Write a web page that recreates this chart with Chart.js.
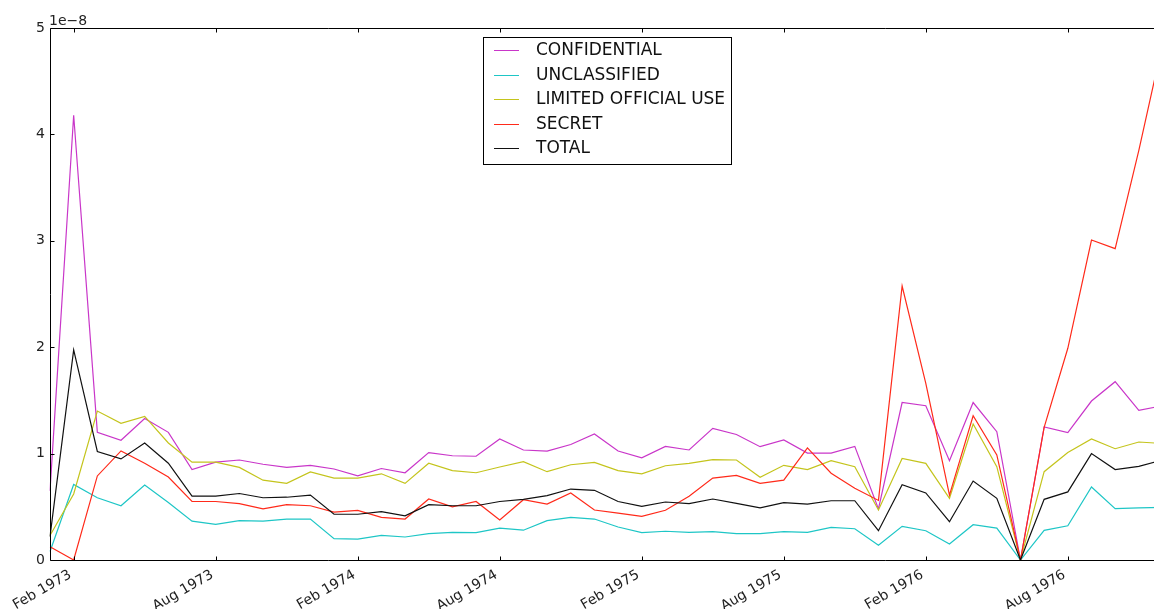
<!DOCTYPE html>
<html>
<head>
<meta charset="utf-8">
<script src="https://cdn.jsdelivr.net/npm/chart.js@4"></script>
<style>
  html, body { margin: 0; padding: 0; background: #fff; overflow: hidden; }
  #wrap { position: absolute; left: 0; top: 0; width: 1170px; height: 609px; }
</style>
</head>
<body>
<div id="wrap"><canvas id="cables"></canvas></div>
<script>
// monthly share of cables, in units of 1e-8, Jan 1973 .. Dec 1976
const years = [1973, 1974, 1975, 1976];
const monthNames = ["Jan", "Feb", "Mar", "Apr", "May", "Jun", "Jul", "Aug", "Sep", "Oct", "Nov", "Dec"];
const tickMonths = ["Feb", "Aug"];

const confidential = [
  0.65, 4.18, 1.20, 1.125, 1.33, 1.20, 0.85, 0.92, 0.94, 0.90, 0.87, 0.89,
  0.855, 0.79, 0.86, 0.82, 1.01, 0.98, 0.975, 1.137, 1.034, 1.024, 1.085, 1.184,
  1.024, 0.96, 1.068, 1.034, 1.237, 1.18, 1.065, 1.128, 1.005, 1.005, 1.068, 0.48,
  1.48, 1.45, 0.933, 1.48, 1.206, 0, 1.25, 1.197, 1.494, 1.676, 1.407, 1.45
];
const unclassified = [
  0.08, 0.71, 0.585, 0.51, 0.705, 0.54, 0.365, 0.335, 0.37, 0.365, 0.385, 0.385,
  0.20, 0.197, 0.232, 0.216, 0.247, 0.26, 0.257, 0.30, 0.28, 0.37, 0.40, 0.385,
  0.31, 0.257, 0.27, 0.26, 0.266, 0.247, 0.247, 0.266, 0.26, 0.307, 0.294, 0.138,
  0.316, 0.275, 0.15, 0.332, 0.30, 0, 0.279, 0.322, 0.686, 0.482, 0.49, 0.495
];
const limitedOfficialUse = [
  0.23, 0.62, 1.40, 1.285, 1.35, 1.10, 0.92, 0.92, 0.87, 0.75, 0.72, 0.827,
  0.77, 0.77, 0.81, 0.72, 0.91, 0.84, 0.82, 0.874, 0.925, 0.83, 0.895, 0.918,
  0.84, 0.81, 0.886, 0.908, 0.943, 0.94, 0.777, 0.89, 0.849, 0.933, 0.877, 0.47,
  0.955, 0.908, 0.58, 1.278, 0.877, 0, 0.83, 1.01, 1.137, 1.046, 1.109, 1.095
];
const secret = [
  0.125, 0, 0.79, 1.025, 0.91, 0.78, 0.55, 0.55, 0.53, 0.48, 0.52, 0.51,
  0.45, 0.467, 0.40, 0.385, 0.573, 0.50, 0.55, 0.376, 0.567, 0.526, 0.63, 0.47,
  0.44, 0.41, 0.467, 0.60, 0.77, 0.795, 0.72, 0.75, 1.053, 0.815, 0.674, 0.56,
  2.575, 1.66, 0.61, 1.356, 0.987, 0, 1.247, 1.99, 3.007, 2.926, 3.85, 4.85
];
const total = [
  0.22, 1.975, 1.02, 0.95, 1.10, 0.91, 0.60, 0.60, 0.625, 0.585, 0.59, 0.61,
  0.43, 0.43, 0.455, 0.415, 0.52, 0.51, 0.51, 0.55, 0.57, 0.605, 0.667, 0.655,
  0.55, 0.504, 0.545, 0.53, 0.573, 0.533, 0.49, 0.54, 0.526, 0.557, 0.557, 0.275,
  0.708, 0.63, 0.36, 0.742, 0.58, 0, 0.57, 0.64, 1.0, 0.85, 0.88, 0.94
];

const months = [];
years.forEach(y => monthNames.forEach(m => months.push(m + " " + y)));

const series = [
  { label: "CONFIDENTIAL", data: confidential, color: "#c936c9" },
  { label: "UNCLASSIFIED", data: unclassified, color: "#1ec6c6" },
  { label: "LIMITED OFFICIAL USE", data: limitedOfficialUse, color: "#c4c41c" },
  { label: "SECRET", data: secret, color: "#ff2a1a" },
  { label: "TOTAL", data: total, color: "#111111" }
];

const FONT = "'DejaVu Sans', sans-serif";

function isTickMonth(label) {
  return tickMonths.includes(label.split(" ")[0]);
}

// axes frame with inward ticks, slanted date labels, the offset text and the boxed legend
const decorations = {
  id: "decorations",
  afterDatasetsDraw(chart) {
    const { ctx, chartArea: a, scales: { x, y } } = chart;
    ctx.save();
    ctx.strokeStyle = "#000";
    ctx.lineWidth = 1;
    const L = Math.round(a.left) + 0.5, T = Math.round(a.top) + 0.5;
    const B = Math.round(a.bottom) + 0.5, R = Math.round(a.right) + 0.5;
    ctx.beginPath();
    ctx.moveTo(R, T); ctx.lineTo(L, T); ctx.lineTo(L, B); ctx.lineTo(R, B);
    ctx.stroke();

    ctx.beginPath();
    months.forEach((m, i) => {
      if (!isTickMonth(m)) return;
      const px = Math.round(x.getPixelForValue(i)) + 0.5;
      ctx.moveTo(px, B); ctx.lineTo(px, B - 4);
      ctx.moveTo(px, T); ctx.lineTo(px, T + 4);
    });
    y.ticks.forEach(t => {
      const py = Math.round(y.getPixelForValue(t.value)) + 0.5;
      ctx.moveTo(L, py); ctx.lineTo(L + 4, py);
    });
    ctx.stroke();

    // date labels, rotated 30 degrees and ending under their tick
    ctx.fillStyle = "#222";
    ctx.font = "14px " + FONT;
    ctx.textAlign = "right";
    ctx.textBaseline = "alphabetic";
    months.forEach((m, i) => {
      if (!isTickMonth(m)) return;
      const px = x.getPixelForValue(i);
      ctx.save();
      ctx.translate(px - 1.5, a.bottom + 17);
      ctx.rotate(-Math.PI / 6);
      ctx.fillText(m, 0, 0);
      ctx.restore();
    });

    ctx.fillStyle = "#222";
    ctx.textAlign = "left";
    ctx.fillText("1e\u22128", a.left - 1, a.top - 3);

    // legend
    const bx = 483.5, by = 37.5, bw = 248, bh = 127;
    ctx.fillStyle = "#fff";
    ctx.fillRect(bx, by, bw, bh);
    ctx.strokeStyle = "#000";
    ctx.strokeRect(bx, by, bw, bh);
    ctx.font = "17px " + FONT;
    ctx.textBaseline = "middle";
    chart.data.datasets.forEach((ds, i) => {
      const ry = 50 + i * 24.5;
      ctx.strokeStyle = ds.borderColor;
      ctx.beginPath();
      ctx.moveTo(494, Math.round(ry) + 0.5);
      ctx.lineTo(519, Math.round(ry) + 0.5);
      ctx.stroke();
      ctx.fillStyle = "#111";
      ctx.fillText(ds.label, 536, ry + 1);
    });
    ctx.restore();
  }
};

new Chart(document.getElementById("cables"), {
  type: "line",
  data: {
    labels: months,
    datasets: series.map((s, i) => ({
      label: s.label,
      data: s.data,
      borderColor: s.color,
      backgroundColor: s.color,
      borderWidth: 1.2,
      pointRadius: 0,
      tension: 0,
      fill: false,
      order: series.length - i
    }))
  },
  options: {
    responsive: true,
    maintainAspectRatio: false,
    devicePixelRatio: 1,
    animation: false,
    layout: { padding: { top: 28, right: 7.5, left: 0, bottom: 0 } },
    plugins: { legend: { display: false }, tooltip: { enabled: false } },
    scales: {
      x: {
        type: "category",
        offset: false,
        grid: { display: false, drawTicks: false, tickLength: 0 },
        border: { display: false },
        ticks: { display: false, autoSkip: false },
        afterFit(scale) { scale.height = 49; }
      },
      y: {
        min: 0,
        max: 5,
        grid: { display: false, drawTicks: false, tickLength: 0 },
        border: { display: false },
        ticks: {
          stepSize: 1,
          padding: 5,
          color: "#222",
          font: { family: FONT, size: 14 }
        },
        afterFit(scale) { scale.width = 50; }
      }
    }
  },
  plugins: [decorations]
});
</script>
</body>
</html>
